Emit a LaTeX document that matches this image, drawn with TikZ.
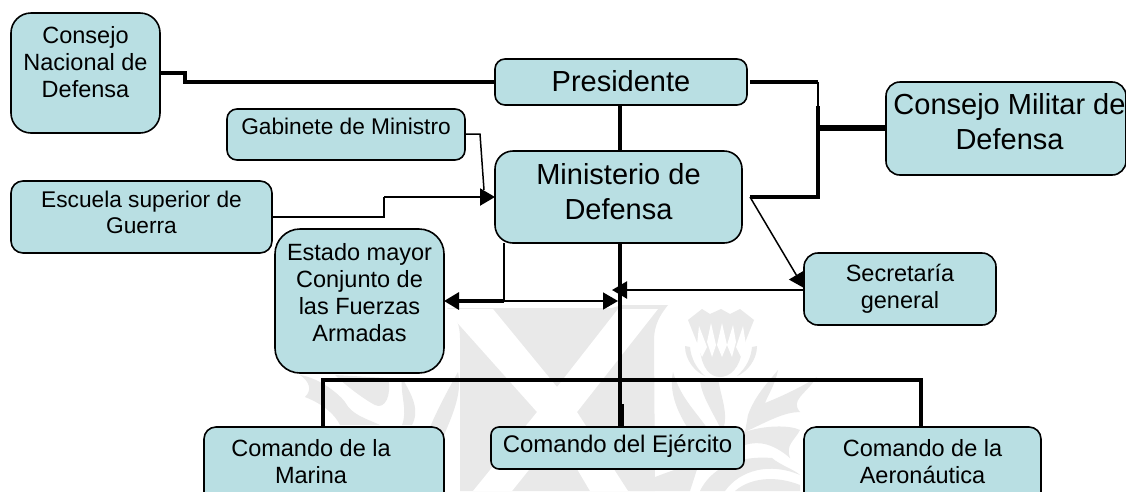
\documentclass[tikz,border=0pt]{standalone}
\usepackage{fontspec}
\setmainfont{Liberation Sans}
\usetikzlibrary{arrows.meta}
\definecolor{boxfill}{HTML}{B9DFE3}
\definecolor{wm}{HTML}{E9E9E9}
\newcommand{\bxtxt}[4]{\parbox[c][#2pt][t]{#1pt}{\centering\rule{0pt}{#3pt}#4}}
\tikzset{
  orgbox/.style={draw=black,fill=boxfill,line width=1.6pt,inner sep=0pt,outer sep=0pt,text=black},
  smalltxt/.style={font=\fontsize{23.5}{27.2}\selectfont},
  tighttxt/.style={font=\fontsize{22.7}{26}\selectfont},
  bigtxt/.style={font=\fontsize{29}{35}\selectfont},
  thin conn/.style={draw=black,line width=1.5pt},
  mid conn/.style={draw=black,line width=2.2pt},
  thick conn/.style={draw=black,line width=3.2pt},
  heavy conn/.style={draw=black,line width=6pt},
  headtip/.style={-{Triangle[length=15pt,width=17pt]}},
  wmshape/.style={fill=wm,draw=none},
  wmwhite/.style={fill=white,draw=none}
}
\begin{document}
\begin{tikzpicture}[x=1pt,y=-1pt]
\useasboundingbox (0,0) rectangle (1126,491);
\clip (0,0) rectangle (1126,491);
\fill[white] (0,0) rectangle (1126,491);
% watermark: saltire
\fill[wmshape] (447,308) .. controls (456,315) and (460,325) .. (460,338) -- (460,491) -- (655,491) -- (654,340) .. controls (654,325) and (660,315) .. (668,305) -- (622,305) -- (612,308) -- cycle;
\fill[wmwhite] (445,309) -- (493,309) -- (557,387) -- (618,309) -- (658,309) -- (577,412) -- (628,491) -- (590,491) -- (557,435) -- (512,491) -- (473,491) -- (537,412) -- cycle;
% watermark: thistle
\fill[wmshape] (688,320) -- (702,309) -- (710,314) -- (721,309) -- (730,314) -- (740,309) -- (754,320) -- (746,340) -- (742,350) .. controls (740,368) and (730,377) .. (720,377) .. controls (710,377) and (702,368) .. (700,350) -- (696,340) -- cycle;
\fill[wmwhite] (699,326) -- (707,347) -- (702,357) -- (697,345) -- cycle;
\fill[wmwhite] (711,323) -- (716,345) -- (712,357) -- (707,342) -- cycle;
\fill[wmwhite] (722,323) -- (727,345) -- (722,357) -- (717,345) -- cycle;
\fill[wmwhite] (733,325) -- (736,342) -- (732,357) -- (727,345) -- cycle;
\fill[wmwhite] (743,326) -- (746,345) -- (741,357) -- (736,347) -- cycle;
\fill[wmshape] (685,346) .. controls (685,360) and (695,372) .. (705,376) .. controls (696,368) and (691,358) .. (690,347) -- cycle;
\fill[wmshape] (757,346) .. controls (757,360) and (747,372) .. (737,376) .. controls (746,368) and (751,358) .. (752,347) -- cycle;
% watermark: right foliage
\fill[wmshape] (673,372) .. controls (668,395) and (680,420) .. (700,445) .. controls (708,455) and (715,440) .. (705,425) .. controls (690,405) and (680,395) .. (673,372) -- cycle;
\fill[wmshape] (700,378) .. controls (700,395) and (715,415) .. (722,432) .. controls (730,415) and (720,395) .. (718,378) -- cycle;
\fill[wmshape] (748,415) .. controls (755,395) and (770,380) .. (778,370) .. controls (775,385) and (768,395) .. (765,403) .. controls (785,395) and (805,385) .. (817,377) .. controls (805,395) and (790,400) .. (800,412) .. controls (785,412) and (770,420) .. (745,432) -- cycle;
\fill[wmshape] (745,432) .. controls (765,425) and (790,425) .. (800,430) .. controls (795,440) and (785,445) .. (790,458) .. controls (775,445) and (760,440) .. (745,445) -- cycle;
\fill[wmshape] (700,491) .. controls (710,470) and (735,455) .. (772,458) .. controls (780,465) and (795,470) .. (800,475) .. controls (770,462) and (740,470) .. (725,491) -- cycle;
\fill[wmshape] (735,491) .. controls (750,478) and (775,475) .. (800,485) -- (800,491) -- cycle;
\fill[wmshape] (630,491) .. controls (650,475) and (680,470) .. (700,460) -- (690,491) -- cycle;
% watermark: left foliage
\fill[wmshape] (458,372) .. controls (463,395) and (450,420) .. (442,440) -- (425,440) .. controls (432,420) and (445,395) .. (458,372) -- cycle;
\fill[wmshape] (402,378) .. controls (400,395) and (408,410) .. (402,425) -- (412,425) .. controls (420,410) and (412,395) .. (402,378) -- cycle;
\fill[wmshape] (388,378) .. controls (392,395) and (385,410) .. (375,405) .. controls (365,400) and (345,385) .. (335,375) -- cycle;
\fill[wmshape] (300,375) .. controls (320,378) and (340,395) .. (345,402) .. controls (352,415) and (365,418) .. (380,425) -- (340,425) .. controls (335,415) and (325,405) .. (305,397) .. controls (312,390) and (310,382) .. (300,375) -- cycle;
% nodes
\node[orgbox,smalltxt,rounded corners=20pt] (cnd) at (85.5,73) {\bxtxt{149}{120}{30}{Consejo\\Nacional de\\Defensa}};
\node[orgbox,tighttxt,rounded corners=10pt] (gab) at (346,134.5) {\bxtxt{238}{51}{25}{Gabinete de Ministro}};
\node[orgbox,tighttxt,rounded corners=12pt] (esc) at (141.5,217) {\bxtxt{261}{72}{26}{Escuela superior de\\Guerra}};
\node[orgbox,smalltxt,rounded corners=25pt] (est) at (359.5,301) {\bxtxt{169}{144}{31}{Estado mayor\\Conjunto de\\las Fuerzas\\Armadas}};
\node[orgbox,bigtxt,rounded corners=10pt] (pres) at (621,82) {\bxtxt{252}{46}{32}{Presidente}};
\node[orgbox,bigtxt,rounded corners=18pt] (min) at (618.5,197) {\bxtxt{247}{92}{33}{Ministerio de\\Defensa}};
\node[orgbox,bigtxt,rounded corners=14pt] (mil) at (1006,128.5) {\bxtxt{240}{93}{32}{\hspace*{7pt}Consejo Militar de\\\hspace*{7pt}Defensa}};
\node[orgbox,smalltxt,rounded corners=14pt] (sec) at (900,289) {\bxtxt{192}{72}{28}{Secretaría\\general}};
\node[orgbox,smalltxt,rounded corners=12pt] (mar) at (324,472) {\bxtxt{240}{90}{29}{Comando de la\kern26pt\\Marina\kern26pt}};
\node[orgbox,font=\fontsize{24}{27.2}\selectfont,rounded corners=8pt] (eje) at (617.5,448) {\bxtxt{253}{42}{25}{Comando del Ejército}};
\node[orgbox,smalltxt,rounded corners=12pt] (aer) at (922.5,472) {\bxtxt{237}{90}{29}{Comando de la\\Aeronáutica}};
% junctions
\coordinate (pj) at (750,82);
\coordinate (mj) at (750,197);
\coordinate (bj) at (818,128);
\coordinate (bus) at (620,380);
% connectors
\draw[thick conn] (cnd.east |- 0,73) -- (185,73) -- (185,82) -- (pres.west |- 0,82);
\draw[thick conn] (pres.south -| bus) -- (min.north -| bus);
\draw[thick conn] (pj) -- (818,82);
\draw[thin conn] (818,82) -- (818,108);
\draw[thick conn] (818,106) -- (818,197) -- (mj);
\draw[heavy conn] (816,128) -- (mil.west |- bj);
\draw[thin conn] (gab.east |- 0,134) -- (480,134) -- (484,190);
\draw[mid conn,headtip] (384,197) -- (min.west |- 0,197);
\draw[thin conn] (esc.east |- 0,217) -- (384,217) -- (384,197);
\draw[thin conn,headtip] (mj) -- (sec.west |- 0,288);
\draw[thick conn] (min.south -| bus) -- (bus);
\draw[thick conn] (bus) -- (eje.north -| bus);
\draw[line width=5pt] (621,404) -- (621,427);
\draw[mid conn] (504,243) -- (504,301);
\draw[thick conn,headtip] (504,301) -- (est.east |- 0,301);
\draw[thin conn,headtip] (504,301) -- (618,301);
\draw[mid conn,headtip] (sec.west |- 0,290) -- (612,290);
\draw[thick conn] (mar.north -| 323,0) -- (323,380) -- (921,380) -- (aer.north -| 921,0);
\end{tikzpicture}
\end{document}
